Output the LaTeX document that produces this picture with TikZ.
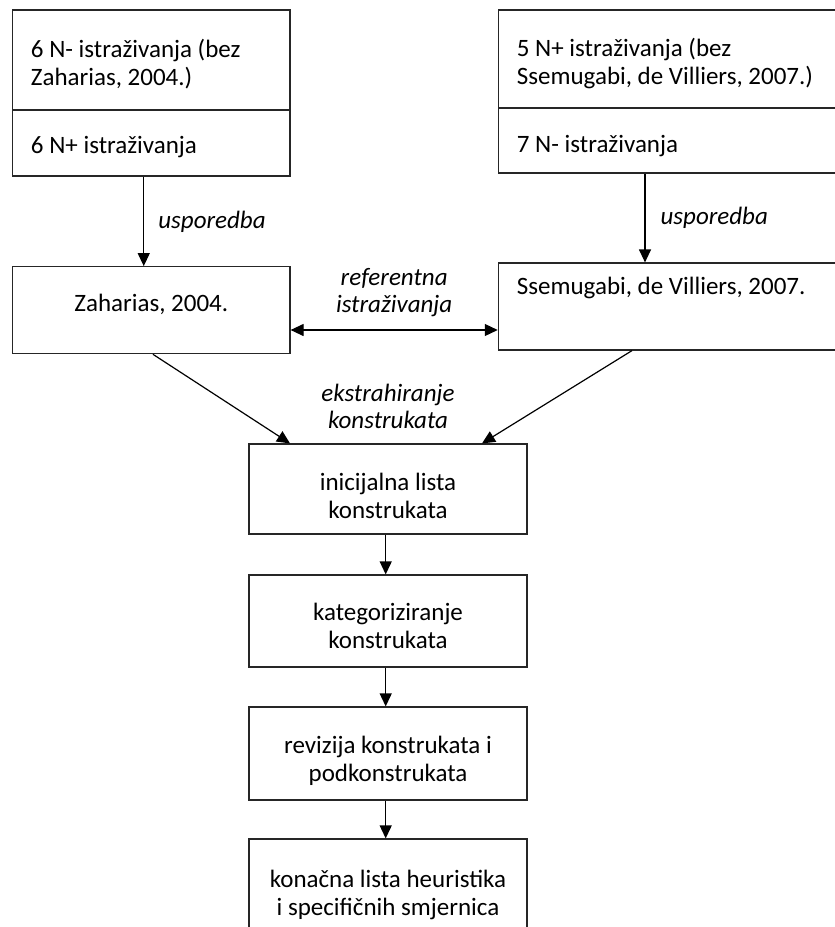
\documentclass[tikz,border=0pt]{standalone}
\usepackage{fontspec}
\setmainfont{Carlito}
\usetikzlibrary{arrows.meta,positioning}

\begin{document}
\begin{tikzpicture}
        [x=1pt, y=-1pt, font=\fontsize{25}{28}\selectfont,
        box/.style={draw=black!85, line width=1.2pt, inner sep=0pt, minimum width=277.3, align=center},
        leftbox/.style={box, align=flush left},
        tpos/.style 2 args={text height=#1, text depth=#2},
        lbl/.style={font=\fontsize{25}{27}\selectfont\itshape, inner sep=0pt, align=center},
        arr/.style={line width=1.2pt, -{Triangle[length=13pt, width=12pt]}},
        dblarr/.style={line width=1.2pt, {Triangle[length=13pt, width=12pt]}-{Triangle[length=13pt, width=12pt]}}]

        \useasboundingbox (0,0) rectangle (835,927);

        % left column
        \node[leftbox, text width=240.8, minimum height=100, tpos={5.2pt}{10pt}] (nminus) at (151.35,60) {6 N- istraživanja (bez\\Zaharias, 2004.)};
        \node[leftbox, text width=240.8, minimum height=66, tpos={26.2pt}{5pt}] (nplus) at (151.35,143) {6 N+ istraživanja};
        \node[box, minimum height=87, tpos={12.8pt}{10pt}] (zah) at (151.35,310.2) {Zaharias, 2004.};

        % right column (cut by the page edge)
        \node[leftbox, minimum width=341.7, text width=304.6, minimum height=98, tpos={5.2pt}{10pt}] (nplusr) at (669.2,59) {5 N+ istraživanja (bez\\Ssemugabi, de Villiers, 2007.)};
        \node[leftbox, minimum width=341.7, text width=304.6, minimum height=65, tpos={29.2pt}{5pt}] (nminusr) at (669.2,140.5) {7 N- istraživanja};
        \node[leftbox, minimum width=341.7, text width=304.6, minimum height=87, tpos={6.2pt}{30pt}] (sse) at (669.2,306.5) {Ssemugabi, de Villiers, 2007.};

        % middle column
        \node[box, minimum width=278, minimum height=90, tpos={69.2pt}{10pt}] (init) at (388,489) {inicijalna lista\\konstrukata};
        \node[box, minimum width=278, minimum height=92, tpos={65.2pt}{10pt}] (kat) at (388,621) {kategoriziranje\\konstrukata};
        \node[box, minimum width=278, minimum height=93, tpos={66.2pt}{10pt}] (rev) at (388,753.5) {revizija konstrukata i\\podkonstrukata};
        \node[box, minimum width=278, minimum height=112, tpos={60pt}{20pt}] (kon) at (388,895) {konačna lista heuristika\\i specifičnih smjernica};

        % comparison arrows
        \draw[arr] ([xshift=-7.6pt]nplus.south) -- ([xshift=-7.6pt]zah.north)
            node[lbl, midway, right=14pt] {usporedba};
        \draw[arr] ([xshift=-24.2pt]nminusr.south) -- ([xshift=-24.2pt]sse.north)
            node[lbl, midway, right=15pt] {usporedba};

        % reference studies
        \draw[dblarr] ([yshift=-19.8pt]zah.east) -- ([yshift=-19.8pt]zah.east -| sse.west)
            node[lbl, midway, above=13pt] {referentna\\istraživanja};

        % extraction
        \draw[arr] ([xshift=1.6pt]zah.south) -- ([xshift=-98pt]init.north);
        \draw[arr] ([xshift=-37.2pt]sse.south) -- ([xshift=94pt]init.north);
        \node[lbl, above=15pt of init] (extr) {ekstrahiranje\\konstrukata};

        % steps
        \draw[arr] ([xshift=-2.3pt]init.south) -- ([xshift=-2.3pt]kat.north);
        \draw[arr] ([xshift=-2.3pt]kat.south) -- ([xshift=-2.3pt]rev.north);
        \draw[arr] ([xshift=-2.3pt]rev.south) -- ([xshift=-2.3pt]kon.north);

        \end{tikzpicture}
\end{document}
